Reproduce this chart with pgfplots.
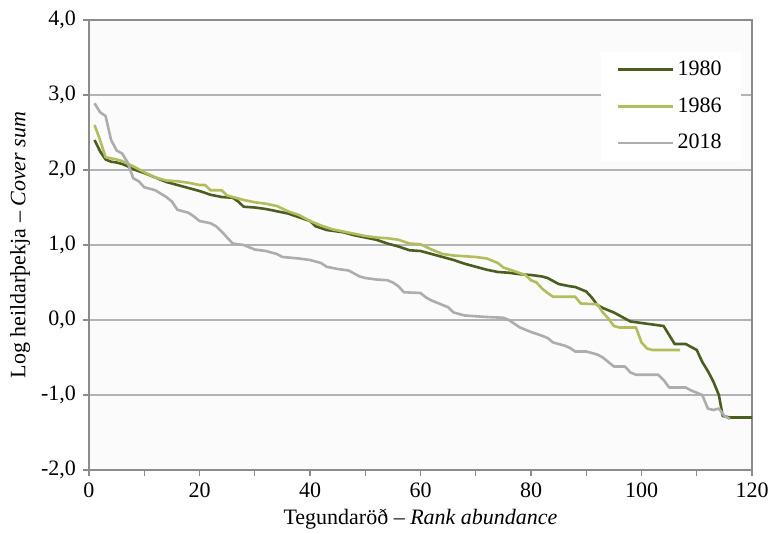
\documentclass[border=0pt]{standalone}
\usepackage{fontspec}
\setmainfont{Liberation Serif}
\usepackage{pgfplots}
\pgfplotsset{compat=1.18}

\definecolor{c1980}{HTML}{4B5E22}
\definecolor{c1986}{HTML}{B4BD5C}
\definecolor{c2018}{HTML}{ADADAD}
\definecolor{gridc}{HTML}{B3B3B3}
\definecolor{framec}{HTML}{8C8C8C}

\begin{document}
\begin{tikzpicture}[font=\fontsize{11}{13}\selectfont]
\begin{axis}[
  scale only axis,
  width=331.5pt, height=225pt,
  xmin=0, xmax=120, ymin=-2, ymax=4,
  xtick={0,20,...,120},
  minor xtick={10,30,...,110},
  ytick={-2,-1,...,4},
  tick align=outside,
  tick pos=left,
  major tick length=3pt,
  minor tick length=3pt,
  every tick/.style={framec, line width=0.6pt},
  axis line style={framec, line width=0.8pt},
  axis background/.style={fill=black!1.5},
  ymajorgrids=true,
  major grid style={gridc, line width=0.9pt},
  yticklabel style={/pgf/number format/.cd, use comma, fixed, fixed zerofill, precision=1, assume math mode=true},
  xticklabel style={/pgf/number format/assume math mode=true},
  xlabel={Tegundaröð – \textit{Rank abundance}},
  ylabel={Log heildarþekja – \textit{Cover sum}},
  xlabel style={at={(axis description cs:0.5,-0.109)}, anchor=center},
  ylabel style={at={(axis description cs:-0.104,0.5)}, anchor=center},
  legend style={at={(0.9834,0.93)}, anchor=north east, draw=none, fill=white,
    inner xsep=8pt, inner ysep=3pt, row sep=6.5pt, nodes={inner sep=1.5pt}},
  legend cell align=left,
  legend image code/.code={\draw[#1] (0cm,0cm) -- (0.97cm,0cm);},
  every axis plot/.append style={line width=1.3pt, line join=round},
]
\addplot[c1980] coordinates {
(1,2.40)(2,2.25)(3,2.14)(4,2.11)(5,2.10)(6,2.08)(7,2.05)(8,2.01)(10,1.96)(12,1.90)
(14,1.84)(16,1.80)(18,1.76)(20,1.72)(22,1.67)(24,1.64)(26,1.63)(27,1.58)(28,1.51)(30,1.50)
(32,1.48)(34,1.45)(36,1.42)(38,1.37)(40,1.32)(41,1.25)(43,1.20)(46,1.17)(48,1.13)(50,1.10)
(52,1.07)(54,1.02)(56,0.98)(58,0.93)(60,0.92)(62,0.88)(64,0.84)(66,0.80)(68,0.75)(70,0.71)
(72,0.67)(74,0.64)(76,0.63)(78,0.61)(80,0.60)(82,0.58)(83,0.56)(85,0.48)(87,0.45)(88,0.44)
(90,0.38)(91,0.30)(92,0.20)(93,0.16)(95,0.10)(96,0.06)(98,-0.02)(100,-0.04)(102,-0.06)(104,-0.08)
(105,-0.20)(106,-0.32)(108,-0.32)(109,-0.36)(110,-0.40)(111,-0.56)(112,-0.68)(113,-0.82)(114,-1.00)
(114.7,-1.28)(116,-1.30)(120,-1.30)
};
\addplot[c1986] coordinates {
(1,2.60)(2,2.40)(3,2.17)(5,2.14)(6,2.12)(8,2.05)(10,1.97)(12,1.90)(14,1.86)(16,1.85)
(18,1.83)(20,1.80)(21,1.80)(22,1.73)(24,1.73)(25,1.66)(26,1.64)(28,1.60)(30,1.57)(32,1.55)
(34,1.52)(36,1.45)(38,1.40)(40,1.32)(42,1.26)(44,1.21)(46,1.18)(48,1.15)(50,1.12)(52,1.10)
(54,1.09)(56,1.07)(58,1.02)(60,1.01)(62,0.94)(64,0.88)(66,0.86)(68,0.85)(70,0.84)(72,0.82)
(74,0.76)(75,0.70)(77,0.65)(79,0.60)(80,0.53)(81,0.50)(82,0.42)(83,0.36)(84,0.31)(88,0.31)
(89,0.22)(92,0.21)(93,0.10)(94,0.02)(95,-0.08)(96,-0.10)(99,-0.10)(100,-0.30)(101,-0.38)
(102,-0.40)(107,-0.40)
};
\addplot[c2018] coordinates {
(1,2.89)(2,2.77)(3,2.72)(4,2.40)(5,2.26)(6,2.22)(7,2.10)(8,1.89)(9,1.85)(10,1.77)
(12,1.73)(14,1.64)(15,1.58)(16,1.47)(18,1.43)(19,1.38)(20,1.32)(22,1.29)(23,1.25)(24,1.18)
(25,1.10)(26,1.02)(28,1.00)(30,0.94)(32,0.92)(34,0.88)(35,0.84)(38,0.82)(40,0.80)(42,0.76)
(43,0.71)(45,0.68)(47,0.66)(48,0.62)(49,0.58)(50,0.56)(52,0.54)(54,0.53)(55,0.50)(56,0.45)
(57,0.37)(60,0.36)(61,0.30)(62,0.26)(64,0.20)(65,0.17)(66,0.10)(68,0.06)(70,0.05)(72,0.04)
(75,0.03)(76,0.00)(77,-0.05)(78,-0.10)(80,-0.16)(82,-0.21)(83,-0.24)(84,-0.30)(86,-0.34)(87,-0.37)
(88,-0.42)(90,-0.42)(92,-0.46)(93,-0.50)(94,-0.56)(95,-0.62)(97,-0.62)(98,-0.70)(99,-0.73)(103,-0.73)
(104,-0.80)(105,-0.90)(108,-0.90)(109,-0.94)(110,-0.97)(111,-1.00)(112,-1.18)(113,-1.20)(114,-1.18)
(115,-1.28)(116,-1.32)
};
\legend{1980,1986,2018}
\end{axis}
\pgfresetboundingbox
\path ([xshift=-44.5pt,yshift=-32pt]current axis.south west)
  rectangle ([xshift=8.5pt,yshift=10pt]current axis.north east);
\end{tikzpicture}
\end{document}
